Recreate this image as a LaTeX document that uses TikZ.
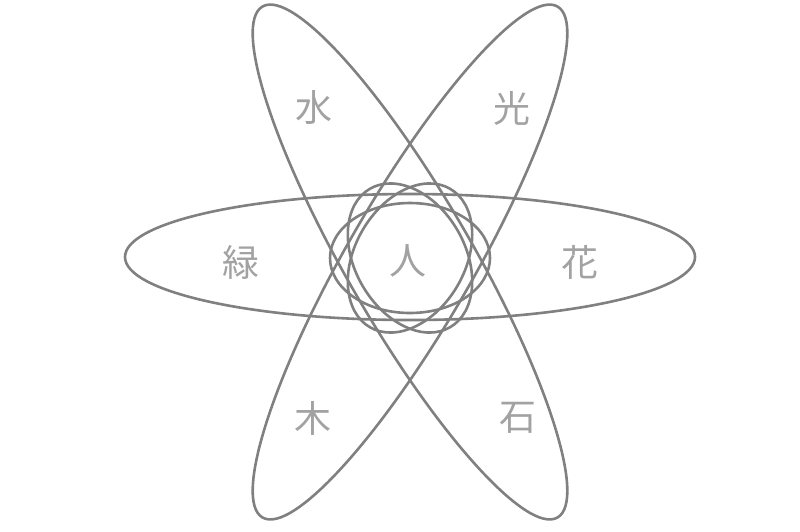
\documentclass[tikz,border=0pt]{standalone}
\usepackage{fontspec}
\newfontfamily\cjk{Noto Sans CJK JP}
\definecolor{linegray}{RGB}{128,128,128}
\definecolor{textgray}{RGB}{162,162,162}
\tikzset{
  orbit/.style={draw=linegray, line width=2.6pt},
  glyph/.style={text=textgray, font=\cjk\fontsize{37}{37}\selectfont, inner sep=0pt}
}
\begin{document}
\begin{tikzpicture}[x=1pt,y=-1pt]
\useasboundingbox (0,0) rectangle (800,531);
% large orbits
\draw[orbit] (410,257) ellipse [x radius=285, y radius=63];
\draw[orbit, rotate around={60:(410,262)}] (410,262) ellipse [x radius=295, y radius=63];
\draw[orbit, rotate around={-60:(410,262)}] (410,262) ellipse [x radius=295, y radius=63];
% small orbits
\draw[orbit] (410,258) ellipse [x radius=80, y radius=55];
\draw[orbit, rotate around={60:(410,258)}] (410,258) ellipse [x radius=80, y radius=55];
\draw[orbit, rotate around={-60:(410,258)}] (410,258) ellipse [x radius=80, y radius=55];
% labels
\node[glyph] (mizu) at (314,107) {水};
\node[glyph] (hikari) at (512,108) {光};
\node[glyph] (midori) at (241,262) {緑};
\node[glyph] (hito) at (408,261) {人};
\node[glyph] (hana) at (580,262) {花};
\node[glyph] (ki) at (313,418) {木};
\node[glyph] (ishi) at (518,418) {石};
\end{tikzpicture}
\end{document}
